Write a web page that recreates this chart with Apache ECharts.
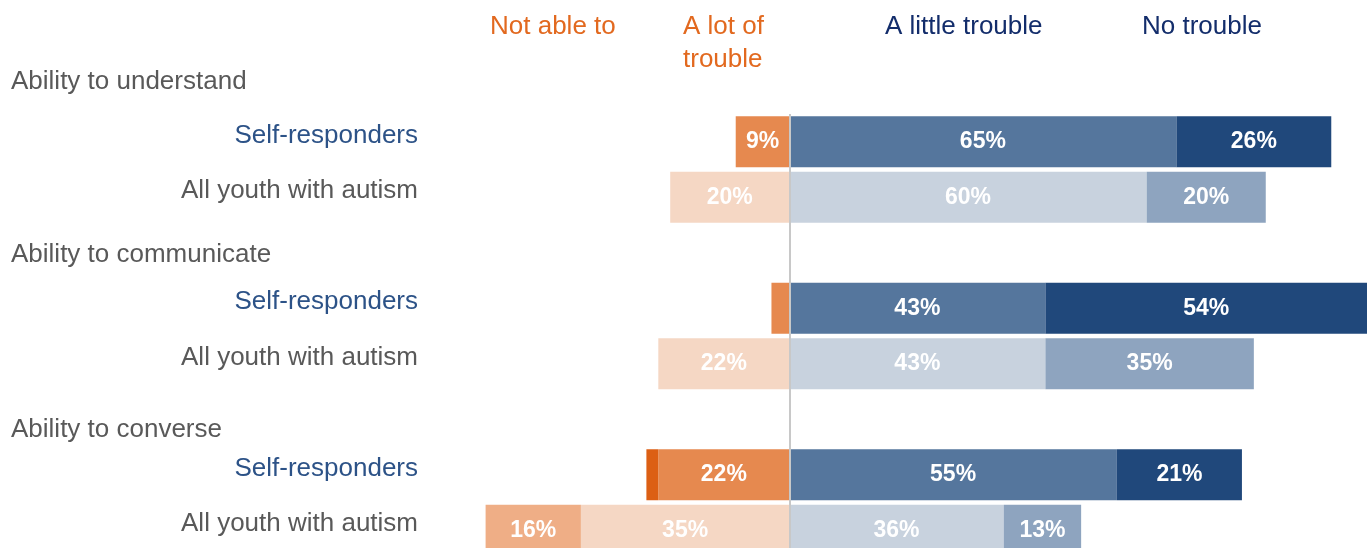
<!DOCTYPE html>
<html>
<head>
<meta charset="utf-8">
<script src="https://cdn.jsdelivr.net/npm/echarts@6/dist/echarts.min.js"></script>
<style>
  html, body { margin: 0; padding: 0; background: #fff; }
  #chart { width: 1367px; height: 548px; }
</style>
</head>
<body>
<div id="chart"></div>
<script>
// rows top to bottom, "gap" rows sit under the group headings
const groups = ['Ability to understand', 'Ability to communicate', 'Ability to converse']
const rows = ['self-1', 'all-1', 'gap-2', 'self-2', 'all-2', 'gap-3', 'self-3', 'all-3']
const notAble = [0, 0, null, 0, 0, null, 2, 16]
const aLotOf = [9, 20, null, 3, 22, null, 22, 35]
const aLittle = [65, 60, null, 43, 43, null, 55, 36]
const noTrouble = [26, 20, null, 54, 35, null, 21, 13]
const columnTitles = ['Not able to', 'A lot of\ntrouble', 'A little trouble', 'No trouble']

const FONT = '"Liberation Sans", Arial, Helvetica, sans-serif'
const rowNames = { self: 'Self-responders', all: 'All youth with autism', gap: '' }

function makeSeries(name, values, colors, negative) {
  return {
    name: name,
    type: 'bar',
    stack: 'total',
    barWidth: 51,
    data: values.map(v => (v == null ? null : negative ? -v : v)),
    itemStyle: {
      color: p => (rows[p.dataIndex].startsWith('all') ? colors[1] : colors[0]),
    },
    label: {
      show: true,
      position: 'inside',
      color: '#fff',
      fontFamily: FONT,
      fontWeight: 'bold',
      fontSize: 23,
      formatter: p => (Math.abs(p.value) >= 5 ? Math.abs(p.value) + '%' : ''),
    },
  }
}

const series = [
  makeSeries('A lot of trouble', aLotOf, ['#e6894f', '#f5d7c4'], true),
  makeSeries('Not able to', notAble, ['#dc5f14', '#efae86'], true),
  makeSeries('A little trouble', aLittle, ['#55769d', '#c8d2de'], false),
  makeSeries('No trouble', noTrouble, ['#20487b', '#8ea4bf'], false),
]
// centre line at zero
series[0].markLine = {
  silent: true,
  symbol: 'none',
  z: 10,
  label: { show: false },
  lineStyle: { color: '#c8c8c8', width: 2, type: 'solid' },
  data: [{ xAxis: 0 }],
}

const headerGraphics = [
  { text: columnTitles[0], x: 490, y: 25, color: '#e2691f' },
  { text: columnTitles[1], x: 683, y: 25, color: '#e2691f' },
  { text: columnTitles[2], x: 885, y: 25, color: '#132d6b' },
  { text: columnTitles[3], x: 1142, y: 25, color: '#132d6b' },
  { text: groups[0], x: 11, y: 80, color: '#595959' },
  { text: groups[1], x: 11, y: 253, color: '#595959' },
  { text: groups[2], x: 11, y: 428, color: '#595959' },
].map(h => ({
  type: 'text',
  x: h.x,
  y: h.y - 15,
  style: {
    text: h.text,
    fill: h.color,
    font: '26px ' + FONT,
    lineHeight: 33,
    verticalAlign: 'top',
    align: 'left',
  },
}))

const chart = echarts.init(document.getElementById('chart'))
chart.setOption({
  animation: false,
  grid: { left: 432, right: 0, top: 114, height: 444, outerBoundsMode: 'none' },
  xAxis: { type: 'value', min: -60, max: 97, show: false },
  yAxis: {
    type: 'category',
    inverse: true,
    data: rows,
    axisLine: { show: false },
    axisTick: { show: false },
    axisLabel: {
      margin: 14,
      formatter: v => {
        const kind = v.split('-')[0]
        if (kind === 'gap') return ''
        return '{' + kind + '|' + rowNames[kind] + '}'
      },
      rich: {
        self: { color: '#2c5287', fontSize: 26, fontFamily: FONT, padding: [0, 0, 12, 0] },
        all: { color: '#595959', fontSize: 26, fontFamily: FONT, padding: [0, 0, 12, 0] },
      },
    },
  },
  graphic: headerGraphics,
  series: series,
})
</script>
</body>
</html>
